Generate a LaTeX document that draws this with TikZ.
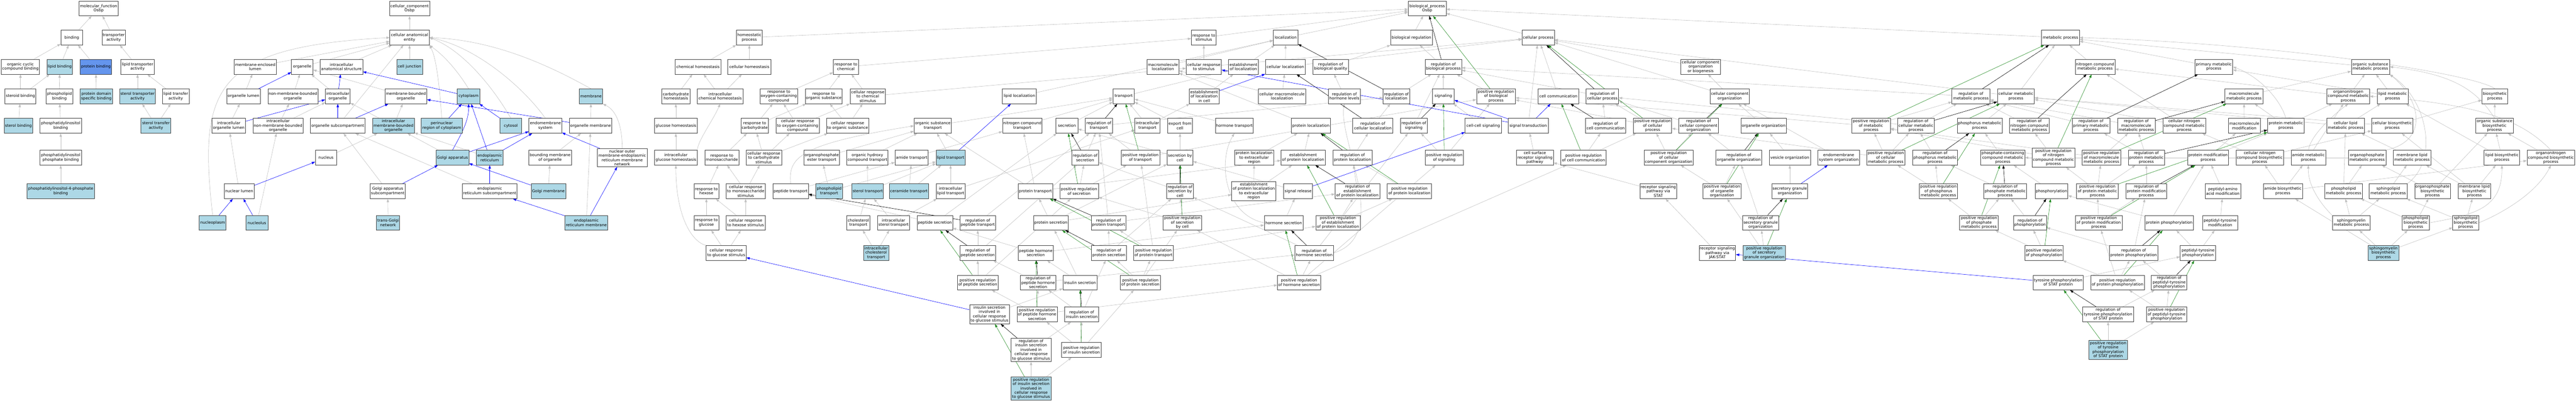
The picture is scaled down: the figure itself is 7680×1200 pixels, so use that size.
\documentclass[tikz,border=0pt]{standalone}
\usepackage{fontspec}
\setmainfont{DejaVu Sans}
\usetikzlibrary{arrows.meta}
\definecolor{lblue}{HTML}{ADD8E6}
\definecolor{cfblue}{HTML}{6495ED}
\definecolor{egray}{HTML}{C0C0C0}
\definecolor{egreen}{HTML}{228B22}
\definecolor{bord}{HTML}{404040}
\pgfdeclarelayer{bg}
\pgfdeclarelayer{paper}
\pgfsetlayers{paper,bg,main}
\newcommand\gn[6]{\node[gobox,#5,minimum width=#4pt] (#1) at (#2pt,-#3pt) {#6};}
\tikzset{
  gobox/.style={draw=bord, line width=1.1pt, fill=white, align=center, inner xsep=2pt, inner ysep=3pt,
    minimum height=44pt, font=\fontsize{11.6}{13}\selectfont},
  wb/.style={},
  lb/.style={fill=lblue},
  cfb/.style={fill=cfblue},
  ge/.style={draw=egray, line width=0.9pt, -{Triangle[length=10pt,width=7pt]}},
  be/.style={draw=blue, line width=0.9pt, -{Triangle[length=10pt,width=7pt]}},
  ke/.style={draw=black, line width=0.9pt, -{Triangle[length=10pt,width=7pt]}},
  gre/.style={draw=egreen, line width=0.9pt, -{Triangle[length=10pt,width=7pt]}}
}
\begin{document}
\begin{tikzpicture}[x=1pt,y=1pt]
\begin{pgfonlayer}{paper}
\fill[white] (0,0) rectangle (7680,-1200);
\end{pgfonlayer}
\useasboundingbox (0,0) rectangle (7680,-1200);
% ---------- molecular function ----------
\gn{mf}{294}{25}{117}{wb}{molecular\_function\\Osbp}
\gn{bind}{214}{112}{65}{wb}{binding}
\gn{tra}{339}{112}{70}{wb}{transporter\\activity}
\gn{occb}{61}{199}{114}{wb}{organic cyclic\\compound binding}
\gn{lipb}{178}{199}{76}{lb}{lipid binding}
\gn{protb}{286}{199}{94}{cfb}{protein binding}
\gn{lta}{410}{199}{99}{wb}{lipid transporter\\activity}
\gn{sterb}{61}{287}{92}{wb}{steroid binding}
\gn{phlb}{177}{287}{80}{wb}{phospholipid\\binding}
\gn{pdsb}{287}{287}{96}{lb}{protein domain\\specific binding}
\gn{sta}{410}{287}{107}{lb}{sterol transporter\\activity}
\gn{ltfa}{524}{287}{80}{wb}{lipid transfer\\activity}
\gn{stb}{55}{375}{85}{lb}{sterol binding}
\gn{pib}{181}{375}{125}{wb}{phosphatidylinositol\\binding}
\gn{stfa}{465}{375}{89}{lb}{sterol transfer\\activity}
\gn{pipb}{181}{470}{125}{wb}{phosphatidylinositol\\phosphate binding}
\gn{pipfb}{181}{570}{201}{lb}{phosphatidylinositol-4-phosphate\\binding}
% ---------- cellular component ----------
\gn{cc}{1221}{25}{120}{wb}{cellular\_component\\Osbp}
\gn{cae}{1221}{112}{117}{wb}{cellular anatomical\\entity}
\gn{mel}{761}{199}{126}{wb}{membrane-enclosed\\lumen}
\gn{org}{901}{199}{64}{wb}{organelle}
\gn{ias}{1018}{199}{127}{wb}{intracellular\\anatomical structure}
\gn{cj}{1221}{199}{77}{lb}{cell junction}
\gn{orglum}{726}{287}{100}{wb}{organelle lumen}
\gn{nmbo}{873}{287}{149}{wb}{non-membrane-bounded\\organelle}
\gn{io}{1007}{287}{74}{wb}{intracellular\\organelle}
\gn{mbo}{1210}{287}{125}{wb}{membrane-bounded\\organelle}
\gn{cyto}{1397}{287}{67}{lb}{cytoplasm}
\gn{memb}{1762}{287}{69}{lb}{membrane}
\gn{iol}{682}{375}{100}{wb}{intracellular\\organelle lumen}
\gn{inmbo}{829}{375}{149}{wb}{intracellular\\non-membrane-bounded\\organelle}
\gn{osub}{1007}{375}{163}{wb}{organelle subcompartment}
\gn{imbo}{1173}{375}{124}{lb}{intracellular\\membrane-bounded\\organelle}
\gn{prc}{1317}{375}{123}{lb}{perinuclear\\region of cytoplasm}
\gn{cytosol}{1523}{375}{64}{lb}{cytosol}
\gn{ems}{1626}{375}{98}{wb}{endomembrane\\system}
\gn{orgm}{1761}{375}{127}{wb}{organelle membrane}
\gn{nuc}{972}{470}{64}{wb}{nucleus}
\gn{golgi}{1349}{470}{98}{lb}{Golgi apparatus}
\gn{er}{1460}{470}{80}{lb}{endoplasmic\\reticulum}
\gn{bmo}{1640}{470}{127}{wb}{bounding membrane\\of organelle}
\gn{nomern}{1855}{470}{148}{wb}{nuclear outer\\membrane-endoplasmic\\reticulum membrane\\network}
\gn{nl}{713}{570}{89}{wb}{nuclear lumen}
\gn{gas}{1156}{570}{105}{wb}{Golgi apparatus\\subcompartment}
\gn{ersub}{1460}{570}{163}{wb}{endoplasmic\\reticulum subcompartment}
\gn{gm}{1635}{570}{103}{lb}{Golgi membrane}
\gn{nucp}{634}{664}{80}{lb}{nucleoplasm}
\gn{nucl}{766}{664}{65}{lb}{nucleolus}
\gn{tgn}{1157}{664}{69}{lb}{trans-Golgi\\network}
\gn{erm}{1748}{664}{127}{lb}{endoplasmic\\reticulum membrane}
% ---------- biological process: homeostasis / response ----------
\gn{homeo}{2234}{112}{77}{wb}{homeostatic\\process}
\gn{chemh}{2081}{199}{136}{wb}{chemical homeostasis}
\gn{cellh}{2234}{199}{128}{wb}{cellular homeostasis}
\gn{rchem}{2522}{199}{75}{wb}{response to\\chemical}
\gn{carbh}{2015}{287}{83}{wb}{carbohydrate\\homeostasis}
\gn{ichemh}{2147}{287}{136}{wb}{intracellular\\chemical homeostasis}
\gn{roxy}{2322}{287}{113}{wb}{response to\\oxygen-containing\\compound}
\gn{rorg}{2456}{287}{110}{wb}{response to\\organic substance}
\gn{crchem}{2587}{287}{105}{wb}{cellular response\\to chemical\\stimulus}
\gn{glch}{2015}{375}{127}{wb}{glucose homeostasis}
\gn{rcarb}{2250}{375}{82}{wb}{response to\\carbohydrate}
\gn{croxy}{2378}{375}{129}{wb}{cellular response\\to oxygen-containing\\compound}
\gn{crorg}{2527}{375}{127}{wb}{cellular response\\to organic substance}
\gn{iglch}{2015}{470}{127}{wb}{intracellular\\glucose homeostasis}
\gn{rmono}{2152}{470}{101}{wb}{response to\\monosaccharide}
\gn{crcarb}{2277}{470}{106}{wb}{cellular response\\to carbohydrate\\stimulus}
\gn{opet}{2450}{470}{105}{wb}{organophosphate\\ester transport}
\gn{ohct}{2586}{470}{123}{wb}{organic hydroxy\\compound transport}
\gn{rhex}{2106}{570}{74}{wb}{response to\\hexose}
\gn{crmono}{2223}{570}{117}{wb}{cellular response\\to monosaccharide\\stimulus}
\gn{pept}{2357}{570}{106}{wb}{peptide transport}
\gn{plt}{2472}{570}{80}{lb}{phospholipid\\transport}
\gn{stt}{2587}{570}{84}{lb}{sterol transport}
\gn{rglc}{2106}{664}{74}{wb}{response to\\glucose}
\gn{crhex}{2223}{664}{117}{wb}{cellular response\\to hexose stimulus}
\gn{cht}{2559}{664}{70}{wb}{cholesterol\\transport}
\gn{crglc}{2165}{754}{119}{wb}{cellular response\\to glucose stimulus}
% ---------- transport / secretion ----------
\gn{llocal}{3039}{287}{101}{wb}{lipid localization}
\gn{ost}{2781}{375}{111}{wb}{organic substance\\transport}
\gn{nct}{3048}{375}{118}{wb}{nitrogen compound\\transport}
\gn{secr}{3181}{375}{65}{wb}{secretion}
\gn{amt}{2718}{470}{99}{wb}{amide transport}
\gn{lipt}{2834}{470}{86}{lb}{lipid transport}
\gn{rsec}{3235}{470}{80}{wb}{regulation of\\secretion}
\gn{cert}{2710}{570}{117}{lb}{ceramide transport}
\gn{ilt}{2834}{570}{86}{wb}{intracellular\\lipid transport}
\gn{prot}{3087}{570}{103}{wb}{protein transport}
\gn{prsec}{3217}{570}{115}{wb}{positive regulation\\of secretion}
\gn{ist}{2664}{664}{96}{wb}{intracellular\\sterol transport}
\gn{peps}{2787}{664}{106}{wb}{peptide secretion}
\gn{rpept}{2915}{664}{106}{wb}{regulation of\\peptide transport}
\gn{prots}{3133}{664}{102}{wb}{protein secretion}
\gn{ict}{2612}{754}{75}{lb}{intracellular\\cholesterol\\transport}
\gn{rpeps}{2915}{754}{106}{wb}{regulation of\\peptide secretion}
\gn{phs}{3088}{754}{105}{wb}{peptide hormone\\secretion}
\gn{prpeps}{2915}{842}{122}{wb}{positive regulation\\of peptide secretion}
\gn{rphs}{3095}{842}{105}{wb}{regulation of\\peptide hormone\\secretion}
\gn{inss}{3220}{842}{101}{wb}{insulin secretion}
\gn{isgs}{2950}{937}{119}{wb}{insulin secretion\\involved in\\cellular response\\to glucose stimulus}
\gn{prphs}{3092}{937}{120}{wb}{positive regulation\\of peptide hormone\\secretion}
\gn{rinss}{3225}{937}{101}{wb}{regulation of\\insulin secretion}
\gn{risgs}{3074}{1043}{120}{wb}{regulation of\\insulin secretion\\involved in\\cellular response\\to glucose stimulus}
\gn{prinss}{3224}{1043}{118}{wb}{positive regulation\\of insulin secretion}
\gn{prisgs}{3074}{1158}{120}{lb}{positive regulation\\of insulin secretion\\involved in\\cellular response\\to glucose stimulus}
% ---------- localization ----------
\gn{rstim}{3589}{112}{74}{wb}{response to\\stimulus}
\gn{local}{3833}{112}{73}{wb}{localization}
\gn{mloc}{3467}{199}{95}{wb}{macromolecule\\localization}
\gn{crstim}{3589}{199}{105}{wb}{cellular response\\to stimulus}
\gn{eloc}{3707}{199}{88}{wb}{establishment\\of localization}
\gn{cloc}{3832}{199}{119}{wb}{cellular localization}
\gn{trans}{3350}{287}{64}{wb}{transport}
\gn{elocc}{3590}{287}{88}{wb}{establishment\\of localization\\in cell}
\gn{cmloc}{3822}{287}{142}{wb}{cellular macromolecule\\localization}
\gn{rtr}{3276}{375}{80}{wb}{regulation of\\transport}
\gn{itr}{3421}{375}{75}{wb}{intracellular\\transport}
\gn{efc}{3518}{375}{74}{wb}{export from\\cell}
\gn{ht}{3680}{375}{113}{wb}{hormone transport}
\gn{prtr}{3400}{470}{115}{wb}{positive regulation\\of transport}
\gn{sbc}{3518}{470}{77}{wb}{secretion by\\cell}
\gn{pler}{3739}{470}{117}{wb}{protein localization\\to extracellular\\region}
\gn{eprl}{3885}{470}{132}{wb}{establishment\\of protein localization}
\gn{rsbc}{3518}{570}{79}{wb}{regulation of\\secretion by\\cell}
\gn{epler}{3738}{570}{132}{wb}{establishment\\of protein localization\\to extracellular\\region}
\gn{sigrel}{3870}{570}{86}{wb}{signal release}
\gn{rpt}{3305}{664}{103}{wb}{regulation of\\protein transport}
\gn{prsbc}{3525}{664}{115}{wb}{positive regulation\\of secretion\\by cell}
\gn{hs}{3827}{664}{115}{wb}{hormone secretion}
\gn{rps}{3306}{754}{104}{wb}{regulation of\\protein secretion}
\gn{prpt}{3439}{754}{117}{wb}{positive regulation\\of protein transport}
\gn{rhs}{3918}{754}{115}{wb}{regulation of\\hormone secretion}
\gn{prps}{3400}{842}{119}{wb}{positive regulation\\of protein secretion}
\gn{prhs}{3873}{842}{129}{wb}{positive regulation\\of hormone secretion}
% ---------- regulation ----------
\gn{bp}{4255}{25}{113}{wb}{biological\_process\\Osbp}
\gn{breg}{4208}{112}{124}{wb}{biological regulation}
\gn{rbq}{3967}{199}{105}{wb}{regulation of\\biological quality}
\gn{rbp}{4303}{199}{109}{wb}{regulation of\\biological process}
\gn{rhl}{4008}{287}{96}{wb}{regulation of\\hormone levels}
\gn{rloc}{4163}{287}{79}{wb}{regulation of\\localization}
\gn{sig}{4303}{287}{65}{wb}{signaling}
\gn{prbp}{4460}{287}{116}{wb}{positive regulation\\of biological\\process}
\gn{ploc}{3908}{375}{118}{wb}{protein localization}
\gn{rcloc}{4093}{375}{120}{wb}{regulation of\\cellular localization}
\gn{rsig}{4215}{375}{80}{wb}{regulation of\\signaling}
\gn{ccsig}{4422}{375}{108}{wb}{cell-cell signaling}
\gn{rploc}{4032}{470}{117}{wb}{regulation of\\protein localization}
\gn{prsig}{4306}{470}{114}{wb}{positive regulation\\of signaling}
\gn{repl}{4047}{570}{133}{wb}{regulation of\\establishment\\of protein localization}
\gn{prploc}{4202}{570}{132}{wb}{positive regulation\\of protein localization}
\gn{preprl}{3989}{664}{132}{wb}{positive regulation\\of establishment\\of protein localization}
% ---------- cellular process ----------
\gn{cproc}{4586}{112}{96}{wb}{cellular process}
\gn{ccob}{5070}{199}{118}{wb}{cellular component\\organization\\or biogenesis}
\gn{ccomm}{4646}{287}{121}{wb}{cell communication}
\gn{rcp}{4777}{287}{97}{wb}{regulation of\\cellular process}
\gn{cco}{5157}{287}{117}{wb}{cellular component\\organization}
\gn{st}{4556}{375}{119}{wb}{signal transduction}
\gn{rcc}{4787}{375}{120}{wb}{regulation of\\cell communication}
\gn{prcp}{4927}{375}{114}{wb}{positive regulation\\of cellular\\process}
\gn{rcco}{5064}{375}{117}{wb}{regulation of\\cellular component\\organization}
\gn{csrsp}{4576}{470}{110}{wb}{cell surface\\receptor signaling\\pathway}
\gn{prcc}{4721}{470}{135}{wb}{positive regulation\\of cell communication}
\gn{prcco}{4975}{470}{147}{wb}{positive regulation\\of cellular\\component organization}
\gn{roo}{5184}{470}{136}{wb}{regulation of\\organelle organization}
\gn{rspstat}{4944}{570}{110}{wb}{receptor signaling\\pathway via\\STAT}
\gn{proo}{5134}{570}{114}{wb}{positive regulation\\of organelle\\organization}
\gn{jakstat}{5120}{754}{109}{wb}{receptor signaling\\pathway via\\JAK-STAT}
\gn{oo}{5258}{375}{136}{wb}{organelle organization}
\gn{prmp}{5578}{375}{115}{wb}{positive regulation\\of metabolic\\process}
\gn{rcmp}{5712}{375}{110}{wb}{regulation of\\cellular metabolic\\process}
\gn{vo}{5336}{470}{123}{wb}{vesicle organization}
\gn{emso}{5482}{470}{124}{wb}{endomembrane\\system organization}
\gn{prcmp}{5622}{470}{114}{wb}{positive regulation\\of cellular\\metabolic process}
\gn{rphmp}{5769}{470}{134}{wb}{regulation of\\phosphorus metabolic\\process}
\gn{sgo}{5336}{570}{107}{wb}{secretory granule\\organization}
\gn{prphmp}{5779}{570}{114}{wb}{positive regulation\\of phosphorus\\metabolic process}
\gn{rsgo}{5249}{664}{107}{wb}{regulation of\\secretory granule\\organization}
\gn{prsgo}{5260}{754}{125}{lb}{positive regulation\\of secretory\\granule organization}
% ---------- metabolism ----------
\gn{mp}{6143}{112}{113}{wb}{metabolic process}
\gn{ncmp}{6246}{199}{118}{wb}{nitrogen compound\\metabolic process}
\gn{rmp}{5876}{287}{113}{wb}{regulation of\\metabolic process}
\gn{cmp}{6010}{287}{110}{wb}{cellular metabolic\\process}
\gn{phmp}{5902}{375}{134}{wb}{phosphorus metabolic\\process}
\gn{rncmp}{6050}{375}{118}{wb}{regulation of\\nitrogen compound\\metabolic process}
\gn{rpmp}{6234}{375}{113}{wb}{regulation of\\primary metabolic\\process}
\gn{rmmp}{6369}{375}{112}{wb}{regulation of\\macromolecule\\metabolic process}
\gn{pccmp}{5971}{470}{131}{wb}{phosphate-containing\\compound metabolic\\process}
\gn{prncmp}{6122}{470}{128}{wb}{positive regulation\\of nitrogen\\compound metabolic\\process}
\gn{prmmp}{6265}{470}{114}{wb}{positive regulation\\of macromolecule\\metabolic process}
\gn{rprmp}{6399}{470}{108}{wb}{regulation of\\protein metabolic\\process}
\gn{rphosmp}{5978}{570}{127}{wb}{regulation of\\phosphate metabolic\\process}
\gn{phos}{6116}{570}{98}{wb}{phosphorylation}
\gn{prprmp}{6253}{570}{124}{wb}{positive regulation\\of protein metabolic\\process}
\gn{rpmod}{6399}{570}{122}{wb}{regulation of\\protein modification\\process}
\gn{prphosmp}{5900}{664}{115}{wb}{positive regulation\\of phosphate\\metabolic process}
\gn{rphos}{6052}{664}{99}{wb}{regulation of\\phosphorylation}
\gn{prpmod}{6257}{664}{139}{wb}{positive regulation\\of protein modification\\process}
\gn{pphos}{6467}{664}{144}{wb}{protein phosphorylation}
\gn{prphos}{6094}{754}{114}{wb}{positive regulation\\of phosphorylation}
\gn{rpphos}{6361}{754}{144}{wb}{regulation of\\protein phosphorylation}
\gn{tpstat}{6136}{842}{150}{wb}{tyrosine phosphorylation\\of STAT protein}
\gn{prpphos}{6313}{842}{160}{wb}{positive regulation\\of protein phosphorylation}
\gn{rtpstat}{6285}{937}{151}{wb}{regulation of\\tyrosine phosphorylation\\of STAT protein}
\gn{prptp}{6459}{937}{120}{wb}{positive regulation\\of peptidyl-tyrosine\\phosphorylation}
\gn{prtpstat}{6285}{1043}{115}{lb}{positive regulation\\of tyrosine\\phosphorylation\\of STAT protein}
\gn{pmp}{6600}{199}{113}{wb}{primary metabolic\\process}
\gn{osmp}{7067}{199}{114}{wb}{organic substance\\metabolic process}
\gn{mmp}{6690}{287}{113}{wb}{macromolecule\\metabolic process}
\gn{oncmp}{7001}{287}{127}{wb}{organonitrogen\\compound metabolic\\process}
\gn{cncmp}{6512}{375}{128}{wb}{cellular nitrogen\\compound metabolic\\process}
\gn{mmod}{6691}{375}{96}{wb}{macromolecule\\modification}
\gn{protmp}{6815}{375}{109}{wb}{protein metabolic\\process}
\gn{clmp}{6993}{375}{113}{wb}{cellular lipid\\metabolic process}
\gn{pmod}{6583}{470}{122}{wb}{protein modification\\process}
\gn{cncbp}{6737}{470}{141}{wb}{cellular nitrogen\\compound biosynthetic\\process}
\gn{amp}{6882}{470}{103}{wb}{amide metabolic\\process}
\gn{opmp}{7057}{470}{112}{wb}{organophosphate\\metabolic process}
\gn{paam}{6627}{570}{106}{wb}{peptidyl-amino\\acid modification}
\gn{abp}{6806}{570}{117}{wb}{amide biosynthetic\\process}
\gn{plmp}{6987}{570}{112}{wb}{phospholipid\\metabolic process}
\gn{ptm}{6619}{664}{104}{wb}{peptidyl-tyrosine\\modification}
\gn{smmp}{7010}{664}{113}{wb}{sphingomyelin\\metabolic process}
\gn{ptp}{6553}{754}{106}{wb}{peptidyl-tyrosine\\phosphorylation}
\gn{rptp}{6467}{842}{106}{wb}{regulation of\\peptidyl-tyrosine\\phosphorylation}
\gn{lmp}{7133}{287}{92}{wb}{lipid metabolic\\process}
\gn{bsp}{7438}{287}{77}{wb}{biosynthetic\\process}
\gn{cbp}{7132}{375}{123}{wb}{cellular biosynthetic\\process}
\gn{osbp}{7437}{375}{111}{wb}{organic substance\\biosynthetic\\process}
\gn{mlmp}{7191}{470}{112}{wb}{membrane lipid\\metabolic process}
\gn{lbp}{7459}{470}{106}{wb}{lipid biosynthetic\\process}
\gn{oncbp}{7605}{470}{142}{wb}{organonitrogen\\compound biosynthetic\\process}
\gn{slmp}{7120}{570}{113}{wb}{sphingolipid\\metabolic process}
\gn{opbp}{7252}{570}{106}{wb}{organophosphate\\biosynthetic\\process}
\gn{mlbp}{7377}{570}{98}{wb}{membrane lipid\\biosynthetic\\process}
\gn{plbp}{7202}{664}{80}{wb}{phospholipid\\biosynthetic\\process}
\gn{slbp}{7351}{664}{77}{wb}{sphingolipid\\biosynthetic\\process}
\gn{smbp}{7106}{754}{92}{lb}{sphingomyelin\\biosynthetic\\process}
% ================= edges =================
\begin{pgfonlayer}{bg}
\foreach \a/\b in {bind/mf, tra/mf, occb/bind, lipb/bind, protb/bind, lta/tra, sterb/occb, sterb/lipb,
  phlb/lipb, pdsb/protb, sta/lta, ltfa/lta, stb/sterb, pib/phlb, pipb/pib, pipfb/pipb, stfa/sta, stfa/ltfa,
  cae/cc, mel/cae, org/cae, ias/cae, cj/cae, osub/cae, orglum/mel, nmbo/org, io/org, mbo/org, iol/orglum,
  inmbo/nmbo, inmbo/io, imbo/io, imbo/mbo, nuc/imbo, nl/iol, nucl/inmbo, gas/osub, tgn/gas, golgi/imbo, er/imbo,
  ersub/osub, orgm/memb, bmo/orgm, gm/bmo, erm/orgm,
  homeo/bp, rstim/bp, local/bp, breg/bp, cproc/bp, mp/bp,
  chemh/homeo, cellh/homeo, carbh/chemh, ichemh/chemh, ichemh/cellh, glch/carbh, iglch/glch,
  rchem/rstim, roxy/rchem, rorg/rchem, crchem/rchem, crchem/crstim, rcarb/roxy, rcarb/rorg, croxy/roxy,
  croxy/crchem, crorg/rorg, crorg/crchem, rmono/rcarb, crcarb/rcarb, crcarb/croxy, crcarb/crorg, rhex/rmono,
  crmono/rmono, crmono/crcarb, rglc/rhex, crhex/rhex, crhex/crmono, crglc/rglc, crglc/crhex,
  opet/ost, ohct/ost, pept/amt, plt/opet, plt/lipt, stt/ohct, stt/lipt, cht/stt, ist/stt, ist/ilt, ict/cht, ict/ist,
  lipt/ost, cert/amt, cert/lipt, ilt/lipt, ilt/itr, amt/nct, ost/trans, nct/trans, llocal/local, secr/trans,
  prot/nct, prot/ost, prot/eprl, peps/pept, peps/secr, rpept/rtr, rpeps/rpept, rpeps/rsec, prpeps/rpeps,
  prpeps/prsec, phs/peps, phs/hs, prots/prot, prots/sbc, prots/epler, rphs/rpeps, rphs/rhs, inss/phs, inss/prots,
  isgs/inss, prphs/rphs, prphs/prpeps, prphs/prhs, rinss/rphs, rinss/rps, risgs/rinss, prinss/rinss, prinss/prphs,
  prinss/prps, prisgs/risgs, prisgs/prinss, rsec/rtr, prsec/rsec, prsec/prtr,
  crstim/rstim, crstim/cproc, mloc/local, eloc/local, cloc/local, cloc/cproc, trans/eloc, elocc/eloc, cmloc/mloc,
  cmloc/cloc, itr/trans, itr/elocc, efc/trans, ht/trans, sbc/efc, sbc/secr, rsbc/rsec, prsbc/rsbc, prsbc/prsec,
  pler/ploc, epler/pler, epler/eprl, sigrel/sbc, hs/sigrel, rpt/rtr, rpt/repl, rps/rpt, rps/rsbc, prpt/rpt,
  prpt/prtr, prpt/preprl, prps/prpt, prps/rps, prps/prsbc, prhs/rhs, prhs/prsbc, prhs/prsig, prhs/prcc, rhs/rsbc,
  rhs/rsig, rtr/rloc, prtr/rtr, prtr/prbp, ploc/mloc, eprl/ploc,
  rbp/breg, prbp/rbp, rbq/breg, rhl/rbq, sig/rbp, rsig/rbp, prsig/rsig, prsig/prbp, ccsig/sig, rloc/rbp,
  rcloc/rloc, rploc/rcloc, repl/rploc, prploc/rploc, preprl/repl, preprl/prploc,
  ccomm/cproc, st/cproc, rcp/rbp, rcc/rcp, prcp/rcp, prcp/prbp, prcc/rcc, prcc/prcp, csrsp/st, rspstat/csrsp,
  jakstat/rspstat, ccob/cproc, cco/ccob, cco/cproc, rcco/rcp, prcco/rcco, prcco/prcp, proo/prcco, proo/roo,
  roo/rcco, oo/cco, vo/oo, sgo/vo, emso/cco, rsgo/roo, prsgo/rsgo, prsgo/proo,
  ncmp/mp, rmp/rbp, cmp/mp, cmp/cproc, phmp/cmp, rcmp/rmp, rcmp/rcp, prmp/rmp, prmp/prbp, prcmp/prmp,
  prcmp/rcmp, prcmp/prcp, rncmp/rmp, rpmp/rmp, rmmp/rmp, rphmp/rcmp, prphmp/prcmp, prphmp/rphmp, pccmp/phmp,
  prncmp/rncmp, prncmp/prmp, prmmp/rmmp, prmmp/prmp, rprmp/rmmp, rprmp/rpmp, rphosmp/rphmp, phos/pccmp,
  prprmp/rprmp, prprmp/prmmp, prprmp/prncmp, rpmod/rprmp, prphosmp/rphosmp, prphosmp/prphmp, rphos/rphosmp,
  prphos/rphos, prphos/prphosmp, prpmod/prprmp, prpmod/rpmod, pphos/phos, pphos/pmod, rpphos/rphos,
  rpphos/rpmod, prpphos/rpphos, prpphos/prphos, prpphos/prpmod, tpstat/ptp, rtpstat/rptp, prtpstat/rtpstat,
  prtpstat/prptp, prptp/prpphos, prptp/rptp, rptp/rpphos,
  pmp/mp, osmp/mp, mmp/osmp, oncmp/osmp, oncmp/ncmp, cncmp/ncmp, cncmp/cmp, mmod/mmp, protmp/mmp,
  protmp/oncmp, clmp/lmp, clmp/cmp, pmod/mmod, pmod/protmp, cncbp/cncmp, cncbp/cbp, amp/oncmp,
  opmp/pccmp, paam/pmod, abp/cncbp, abp/amp, abp/oncbp, plmp/clmp, plmp/opmp, ptm/paam, ptp/pphos, ptp/ptm,
  smmp/plmp, smmp/slmp, lmp/osmp, lmp/pmp, cbp/bsp, cbp/cmp, osbp/bsp, mlmp/clmp,
  lbp/osbp, lbp/lmp, oncbp/osbp, slmp/mlmp, opbp/opmp, opbp/osbp, mlbp/mlmp, mlbp/lbp,
  mlbp/cbp, plbp/plmp, plbp/opbp, slbp/slmp, slbp/mlbp, smbp/smmp, smbp/plbp, smbp/slbp, smbp/abp}
  \draw[ge] (\a) -- (\b);
% curved gray edges
\draw[ge] (nucp.north) .. controls (590,-260) and (640,-140) .. (cae.west);
\draw[ge] (prc.north) .. controls (1310,-250) and (1300,-170) .. (cae.south east);
\draw[ge] (cyto.north) .. controls (1370,-220) and (1330,-170) .. (cae.south east);
\draw[ge] (cytosol.north) .. controls (1470,-260) and (1380,-150) .. (cae.east);
\draw[ge] (ems.north) .. controls (1560,-260) and (1420,-140) .. (cae.east);
\draw[ge] (memb.north) .. controls (1680,-220) and (1500,-120) .. (cae.east);
\draw[ge] (nomern.north) .. controls (1855,-380) and (1840,-330) .. (memb.south east);
\draw[ge] (crglc.north west) .. controls (2060,-720) and (2015,-640) .. (iglch.south);
\draw[ge] (iglch.north east) .. controls (2080,-420) and (2125,-360) .. (ichemh.south);
\draw[ge] (pept.north) .. controls (2350,-470) and (2380,-430) .. (ost.west);
\draw[ge] (rhs.east) .. controls (4150,-700) and (3990,-420) .. (rhl.south);
\draw[ge] (hs.west) .. controls (3650,-640) and (3630,-480) .. (ht.south);
\draw[ge] (protmp.north) .. controls (6800,-300) and (6740,-230) .. (pmp.east);
\draw[ge] (amp.north) .. controls (6890,-400) and (6960,-340) .. (oncmp.south);
\draw[ge] (smmp.north west) .. controls (6930,-620) and (6880,-560) .. (amp.south);
\draw[ge] (opmp.north east) .. controls (7240,-420) and (7220,-300) .. (osmp.south east);
\draw[ge] (slmp.north east) .. controls (7270,-480) and (7240,-300) .. (osmp.south east);
\draw[ge] (osbp.north) .. controls (7380,-260) and (7300,-220) .. (osmp.east);
\draw[ge] (bsp.north) .. controls (7380,-220) and (6800,-130) .. (mp.east);
\draw[ge] (oncbp.north) .. controls (7520,-360) and (7400,-310) .. (oncmp.east);
\draw[ge] (plbp.east) .. controls (7380,-640) and (7460,-620) .. (lbp.south);
\draw[ge] (slbp.east) .. controls (7450,-640) and (7560,-580) .. (oncbp.south);
% black: regulates
\foreach \a/\b in {rpept/pept, rpeps/peps, rphs/phs, rinss/inss, risgs/isgs, rtr/trans, rsec/secr, rsbc/sbc,
  rpt/prot, rps/prots, rhs/hs, rbp/bp, rloc/local, rcloc/cloc, rploc/ploc, repl/eprl, rsig/sig, rcp/cproc,
  rcc/ccomm, rcco/cco, roo/oo, rsgo/sgo, rmp/mp, rcmp/cmp, rphmp/phmp, rncmp/ncmp, rpmp/pmp, rmmp/mmp,
  rprmp/protmp, rphosmp/pccmp, rphos/phos, rpmod/pmod, rpphos/pphos, rtpstat/tpstat, rptp/ptp}
  \draw[ke] (\a) -- (\b);
% green: positively regulates
\foreach \a/\b in {prpeps/peps, prphs/phs, prinss/inss, prisgs/isgs, prtr/trans, prsec/secr, prsbc/sbc,
  prpt/prot, prps/prots, prhs/hs, prbp/bp, prploc/ploc, preprl/eprl, prsig/sig, prcp/cproc, prcc/ccomm,
  prcco/cco, proo/oo, prsgo/sgo, prmp/mp, prcmp/cmp, prphmp/phmp, prncmp/ncmp, prmmp/mmp, prprmp/protmp,
  prphosmp/pccmp, prphos/phos, prpmod/pmod, prpphos/pphos, prtpstat/tpstat, prptp/ptp}
  \draw[gre] (\a) -- (\b);
% blue: part of
\foreach \a/\b in {orglum/org, io/ias, iol/io, osub/io, osub/mbo, nl/nuc, nucp/nl, nucl/nl, gas/golgi,
  cyto/ias, orgm/mbo, prc/cyto, er/cyto, cytosol/cyto, golgi/ems, er/ems, nomern/ems, ersub/er, gm/golgi,
  erm/ersub, erm/nomern, isgs/crglc, lipt/llocal, elocc/cloc, st/crstim, st/sig, st/ccomm, sigrel/ccsig,
  sgo/emso, tpstat/jakstat}
  \draw[be] (\a) -- (\b);
\draw[be] (golgi.north) .. controls (1375,-400) and (1398,-360) .. (cyto.south);
\end{pgfonlayer}
\end{tikzpicture}
\end{document}
